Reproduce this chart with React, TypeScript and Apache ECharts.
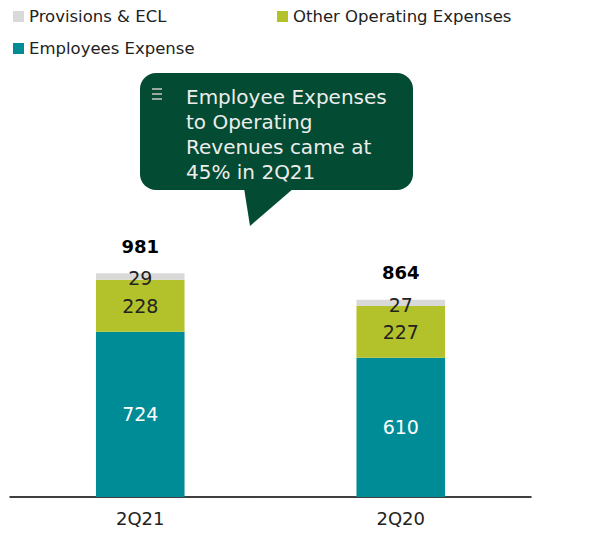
import React, { useEffect, useRef } from "react";
import * as echarts from "echarts";

const categories = ["2Q21", "2Q20"];
const employeesExpense = [724, 610];
const otherOperatingExpenses = [228, 227];
const provisionsECL = [29, 27];
const totals = [981, 864];
const calloutText = "Employee Expenses\nto Operating\nRevenues came at\n45% in 2Q21";

const FONT = "DejaVu Sans";

export default function App() {
  const ref = useRef<HTMLDivElement>(null);
  useEffect(() => {
    const chart = echarts.init(ref.current!, null, { renderer: "svg" });
    const legendBase = {
      icon: "rect",
      itemWidth: 11,
      itemHeight: 11,
      itemGap: 4,
      textStyle: { fontFamily: FONT, fontSize: 16.5, color: "#222" },
      padding: 0,
    };
    chart.setOption({
      animation: false,
      legend: [
        { ...legendBase, data: ["Provisions & ECL"], left: 13, top: 8 },
        { ...legendBase, data: ["Other Operating Expenses"], left: 277, top: 8 },
        { ...legendBase, data: ["Employees Expense"], left: 13, top: 40 },
      ],
      grid: { left: 10, right: 83, top: 246, bottom: 39, containLabel: false },
      xAxis: {
        type: "category",
        data: categories,
        axisLine: { lineStyle: { color: "#000", width: 1.5 } },
        axisTick: { show: false },
        axisLabel: { fontFamily: FONT, fontSize: 18, color: "#222", margin: 12 },
      },
      yAxis: {
        type: "value",
        min: 0,
        max: 1100,
        show: false,
        splitLine: { show: false },
      },
      series: [
        {
          name: "Employees Expense",
          type: "bar",
          stack: "a",
          barWidth: "34%",
          data: employeesExpense,
          itemStyle: { color: "#008C96" },
          label: { show: true, position: "inside", color: "#fff", fontFamily: FONT, fontSize: 19 },
        },
        {
          name: "Other Operating Expenses",
          type: "bar",
          stack: "a",
          data: otherOperatingExpenses,
          itemStyle: { color: "#B3C12A" },
          label: { show: true, position: "inside", color: "#222", fontFamily: FONT, fontSize: 19 },
        },
        {
          name: "Provisions & ECL",
          type: "bar",
          stack: "a",
          data: provisionsECL,
          itemStyle: { color: "#D9D9D9" },
          label: { show: true, position: "inside", offset: [0, 2], color: "#222", fontFamily: FONT, fontSize: 19 },
        },
        {
          name: "Total",
          type: "bar",
          stack: "a",
          data: totals.map(() => 0),
          itemStyle: { color: "transparent" },
          label: {
            show: true,
            position: "top",
            distance: 18,
            formatter: (p: any) => String(totals[p.dataIndex]),
            color: "#000",
            fontWeight: "bold",
            fontFamily: FONT,
            fontSize: 18,
          },
        },
      ],
      graphic: [
        {
          type: "rect",
          shape: { x: 140, y: 73, width: 273, height: 117, r: 16 },
          style: { fill: "#034B32" },
        },
        {
          type: "polygon",
          shape: { points: [[244, 188], [294, 188], [250, 226]] },
          style: { fill: "#034B32" },
        },
        { type: "rect", shape: { x: 152, y: 88, width: 10, height: 2 }, style: { fill: "#9aa8a0" } },
        { type: "rect", shape: { x: 152, y: 93, width: 10, height: 2 }, style: { fill: "#9aa8a0" } },
        { type: "rect", shape: { x: 152, y: 98, width: 10, height: 2 }, style: { fill: "#9aa8a0" } },
        {
          type: "text",
          x: 186,
          y: 84,
          style: {
            text: calloutText,
            fill: "#EDEDED",
            fontFamily: FONT,
            fontSize: 20,
            lineHeight: 25,
          },
        },
      ],
    });
    return () => chart.dispose();
  }, []);
  return <div ref={ref} style={{ width: 614, height: 536, position: "absolute", left: 0, top: 0 }} />;
}
